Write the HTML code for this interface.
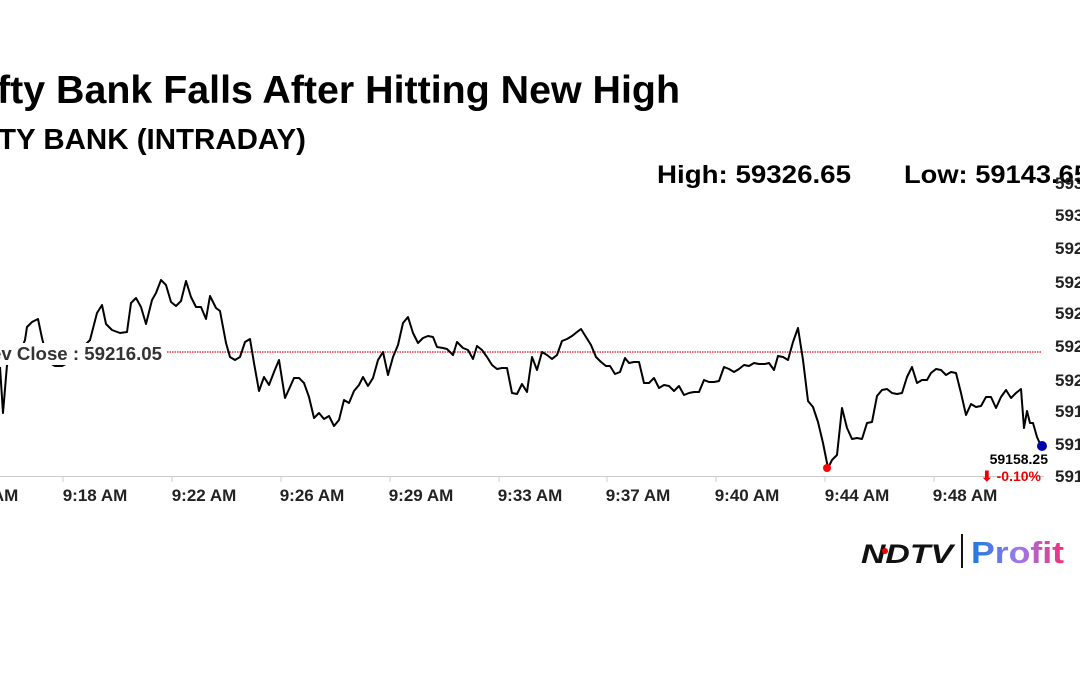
<!DOCTYPE html>
<html><head><meta charset="utf-8"><style>
html,body{margin:0;padding:0;background:#fff;width:1080px;height:675px;overflow:hidden}
svg{display:block}
</style></head><body>
<svg width="1080" height="675" viewBox="0 0 1080 675" xmlns="http://www.w3.org/2000/svg" font-family="'Liberation Sans',Arial,sans-serif">
<text x="-3" y="103" font-size="39" font-weight="bold" textLength="683" lengthAdjust="spacingAndGlyphs" fill="#000">fty Bank Falls After Hitting New High</text>
<text x="-2" y="149" font-size="29" font-weight="bold" textLength="308" lengthAdjust="spacingAndGlyphs" fill="#000">TY BANK (INTRADAY)</text>
<text x="657" y="183" font-size="25" font-weight="bold" textLength="194" lengthAdjust="spacingAndGlyphs">High: 59326.65</text>
<text x="904" y="183" font-size="25" font-weight="bold" textLength="185" lengthAdjust="spacingAndGlyphs">Low: 59143.65</text>
<g font-size="17" font-weight="bold" fill="#222">
<text x="1055" y="189">59340</text><text x="1055" y="221">59320</text><text x="1055" y="254">59280</text><text x="1055" y="288">59260</text><text x="1055" y="319">59240</text><text x="1055" y="352">59220</text><text x="1055" y="386">59200</text><text x="1055" y="417">59180</text><text x="1055" y="450">59160</text><text x="1055" y="482">59140</text>
</g>
<line x1="0" y1="476.5" x2="1044" y2="476.5" stroke="#ccc" stroke-width="1"/>
<g stroke="#ccc"><line x1="63" y1="477" x2="63" y2="482"/><line x1="172" y1="477" x2="172" y2="482"/><line x1="281" y1="477" x2="281" y2="482"/><line x1="390" y1="477" x2="390" y2="482"/><line x1="499" y1="477" x2="499" y2="482"/><line x1="607" y1="477" x2="607" y2="482"/><line x1="716" y1="477" x2="716" y2="482"/><line x1="825" y1="477" x2="825" y2="482"/><line x1="934" y1="477" x2="934" y2="482"/></g>
<g font-size="17" font-weight="bold" fill="#222" text-anchor="middle">
<text x="-14" y="501">9:14 AM</text><text x="95" y="501">9:18 AM</text><text x="204" y="501">9:22 AM</text><text x="312" y="501">9:26 AM</text><text x="421" y="501">9:29 AM</text><text x="530" y="501">9:33 AM</text><text x="638" y="501">9:37 AM</text><text x="747" y="501">9:40 AM</text><text x="857" y="501">9:44 AM</text><text x="965" y="501">9:48 AM</text>
</g>
<line x1="167" y1="352" x2="1042" y2="352" stroke="#f03040" stroke-width="1.5" stroke-dasharray="1.5,1"/>
<polyline fill="none" stroke="#000" stroke-width="2" stroke-linejoin="round" points="0,367 3,413 7,365 12,360 18,358 25,340 27,327 32,322 38,319 42,338 48,362 55,366 62,366 70,362 80,350 90,340 97,313 102,305 106,324 112,330 120,333 127,332 131,303 136,298 141,307 146,324 152,300 156,293 161,280 166,285 171,302 176,306 181,301 186,281 191,297 196,307 201,307 206,319 210,296 216,308 220,311 226,343 230,357 235,360 240,357 245,342 250,339 254,363 259,391 264,377 269,385 274,372 279,360 285,398 290,387 294,378 299,378 304,383 309,397 314,418 319,413 324,419 329,416 334,426 339,420 344,400 349,403 354,391 359,385 363,377 368,386 373,378 378,360 383,352 388,375 393,357 398,345 403,323 408,317 413,333 418,343 423,338 428,336 433,337 437,347 443,348 447,349 453,355 457,342 463,348 468,350 473,359 477,346 482,350 487,357 492,365 497,369 502,368 507,368 512,393 517,394 522,384 527,392 532,357 537,370 542,352 547,355 552,359 557,355 562,341 567,339 572,336 577,332 581,329 586,337 591,345 596,357 601,362 606,366 610,366 615,374 620,372 625,358 629,363 634,362 639,362 644,383 649,383 654,378 659,388 664,385 669,386 674,391 679,386 684,395 689,393 694,392 699,392 704,380 709,382 714,382 719,381 724,367 729,369 734,372 739,369 744,365 749,366 754,363 759,364 765,364 769,363 774,370 778,356 783,357 788,360 793,342 798,328 803,360 808,401 813,407 818,422 823,443 828,468 832,460 837,455 842,408 847,428 852,439 857,438 862,439 867,423 872,422 877,396 882,390 887,389 892,393 897,394 902,393 907,377 912,367 917,383 922,380 927,380 931,373 936,369 941,370 946,375 951,372 956,373 961,393 966,415 971,404 976,407 981,406 986,397 991,397 996,408 1001,397 1006,390 1011,398 1016,393 1021,389 1024,428 1027,411 1030,423 1033,423 1037,437 1041,446"/>
<rect x="0" y="343" width="165" height="22" fill="#fff"/>
<text x="-9" y="360" font-size="18" font-weight="bold" fill="#333" textLength="171" lengthAdjust="spacingAndGlyphs">ev Close : 59216.05</text>
<circle cx="827" cy="468" r="4" fill="#f00"/>
<circle cx="1042" cy="446" r="5" fill="#00a"/>
<text x="1048" y="464" font-size="14" font-weight="bold" text-anchor="end">59158.25</text>
<text x="1041" y="481" font-size="14" font-weight="bold" fill="#e00" text-anchor="end">⬇ -0.10%</text>
<text x="861" y="563" font-size="27" font-weight="bold" font-style="italic" textLength="92" lengthAdjust="spacingAndGlyphs" fill="#111">NDTV</text>
<circle cx="885" cy="551" r="3" fill="#e00"/>
<line x1="962" y1="534" x2="962" y2="568" stroke="#111" stroke-width="2"/>
<defs><linearGradient id="g" x1="0" x2="1"><stop offset="0" stop-color="#1a7ae0"/><stop offset="0.5" stop-color="#9a7af0"/><stop offset="1" stop-color="#f0307a"/></linearGradient></defs>
<text x="971" y="563" font-size="31" font-weight="bold" fill="url(#g)" textLength="93" lengthAdjust="spacingAndGlyphs">Profit</text>
</svg>
</body></html>
